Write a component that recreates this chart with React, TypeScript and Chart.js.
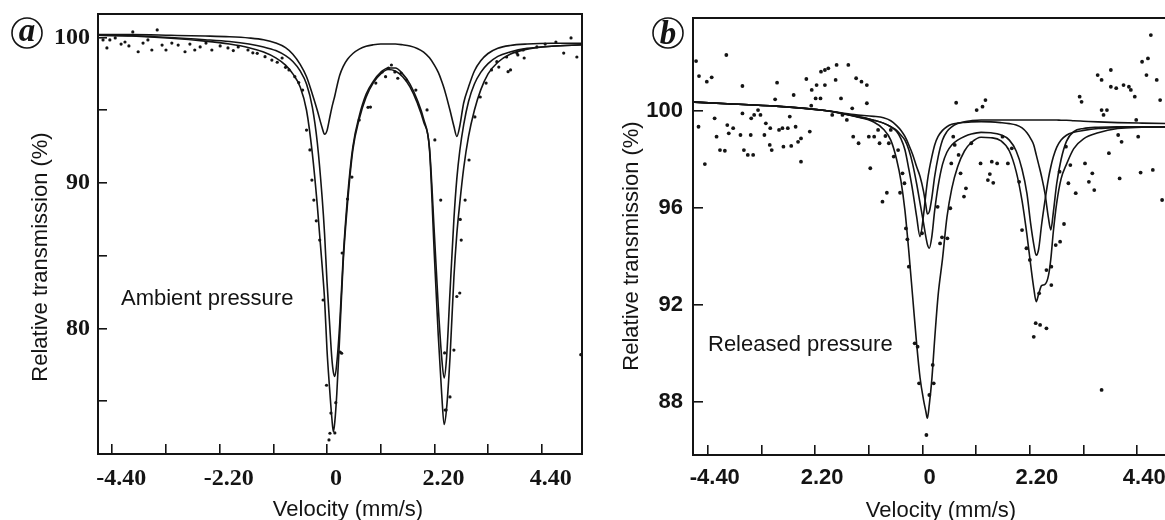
import React, { useEffect, useRef } from "react";
import { Chart, registerables } from "chart.js";

Chart.register(...registerables);

// ---------------- Panel (a): ambient pressure ----------------
const aCurveX = [-4.69, -4.0, -3.2, -2.5, -2.0, -1.6, -1.3, -1.05, -0.85, -0.7, -0.55, -0.42, -0.3, -0.2, -0.1, -0.05, 0.0, 0.05, 0.1, 0.13, 0.16, 0.2, 0.26, 0.33, 0.42, 0.53, 0.66, 0.8, 0.95, 1.1, 1.25, 1.4, 1.55, 1.7, 1.85, 1.98, 2.1, 2.2, 2.28, 2.35, 2.4, 2.45, 2.52, 2.6, 2.66, 2.72, 2.8, 2.9, 3.02, 3.15, 3.3, 3.5, 3.75, 4.1, 4.6, 5.225];
const aTotalFit = [100.15, 100.1, 99.95, 99.75, 99.55, 99.3, 99.0, 98.6, 98.1, 97.5, 96.6, 95.0, 92.0, 88.5, 84.3, 82.0, 78.5, 76.0, 73.8, 72.9, 73.6, 75.5, 79.5, 84.5, 88.6, 92.3, 94.4, 95.9, 96.9, 97.5, 97.8, 97.7, 97.3, 96.6, 95.5, 94.2, 92.3, 85.0, 79.5, 75.5, 73.4, 74.5, 78.0, 83.5, 86.5, 88.6, 91.0, 93.2, 95.0, 96.4, 97.5, 98.3, 98.85, 99.2, 99.4, 99.5];
const aMainDoublet = [100.15, 100.12, 100.0, 99.85, 99.72, 99.55, 99.35, 99.1, 98.75, 98.35, 97.7, 96.8, 95.2, 92.8, 89.0, 86.5, 83.2, 80.5, 77.9, 77.0, 76.7, 77.6, 80.3, 84.8, 89.0, 92.5, 94.6, 96.1, 97.0, 97.6, 97.9, 97.9, 97.5, 96.8, 95.7, 94.4, 92.4, 86.5, 81.5, 78.0, 76.6, 78.0, 82.5, 87.5, 90.3, 92.2, 94.0, 95.6, 96.8, 97.6, 98.2, 98.7, 99.0, 99.25, 99.4, 99.5];
const aMinorDoublet = [100.2, 100.2, 100.15, 100.1, 100.05, 99.97, 99.85, 99.62, 99.3, 98.85, 98.15, 97.3, 96.1, 95.0, 93.8, 93.35, 93.6, 94.4, 95.2, 95.6, 96.0, 96.6, 97.4, 98.0, 98.5, 98.9, 99.2, 99.4, 99.5, 99.55, 99.55, 99.55, 99.5, 99.42, 99.25, 99.0, 98.6, 98.1, 97.6, 97.0, 96.5, 95.9, 95.0, 93.9, 93.2, 93.9, 95.5, 96.6, 97.7, 98.4, 98.9, 99.26, 99.45, 99.55, 99.6, 99.6];
const aDotX = [-4.59, -4.51, -4.45, -4.34, -4.22, -4.14, -4.06, -3.98, -3.87, -3.77, -3.67, -3.59, -3.48, -3.38, -3.3, -3.18, -3.05, -2.91, -2.81, -2.71, -2.6, -2.48, -2.36, -2.19, -2.03, -1.92, -1.82, -1.62, -1.52, -1.43, -1.27, -1.13, -1.02, -0.92, -0.85, -0.78, -0.66, -0.58, -0.5, -0.42, -0.35, -0.31, -0.27, -0.22, -0.15, -0.08, -0.01, 0.04, 0.06, 0.08, 0.16, 0.18, 0.27, 0.3, 0.31, 0.42, 0.51, 0.66, 0.84, 0.89, 1.0, 1.13, 1.2, 1.26, 1.32, 1.39, 1.45, 1.52, 1.63, 1.82, 2.05, 2.21, 2.33, 2.41, 2.42, 2.44, 2.52, 2.6, 2.66, 2.72, 2.73, 2.75, 2.83, 2.91, 3.03, 3.14, 3.26, 3.37, 3.48, 3.52, 3.68, 3.71, 3.76, 3.89, 3.91, 4.02, 4.04, 4.3, 4.47, 4.69, 4.85, 5.0, 5.12, 5.2];
const aDotY = [99.83, 99.28, 99.83, 99.97, 99.55, 99.69, 99.42, 100.38, 99.02, 99.62, 99.83, 99.14, 100.52, 99.48, 99.14, 99.62, 99.48, 99.02, 99.55, 99.14, 99.35, 99.62, 99.14, 99.42, 99.28, 99.1, 99.35, 99.14, 98.95, 98.91, 98.68, 98.45, 98.3, 98.59, 97.95, 97.77, 97.31, 96.9, 96.39, 93.64, 92.27, 90.2, 88.83, 87.4, 86.08, 81.96, 76.1, 72.34, 72.8, 74.19, 72.82, 74.9, 78.38, 78.3, 85.19, 88.9, 90.41, 94.33, 95.2, 95.22, 96.87, 97.63, 97.31, 97.9, 98.11, 97.63, 97.2, 97.56, 97.08, 96.39, 95.02, 92.96, 88.83, 78.32, 74.4, 74.4, 75.3, 78.52, 82.2, 82.44, 87.5, 86.08, 88.83, 91.58, 94.54, 95.91, 96.87, 97.77, 98.34, 97.97, 98.66, 97.65, 97.77, 98.93, 98.8, 99.14, 98.59, 99.35, 99.55, 99.69, 98.93, 99.97, 98.66, 78.2];
const aXTicks = [-4.4, -3.3, -2.2, -1.1, 0, 1.1, 2.2, 3.3, 4.4];
const aXTickLabels = ["-4.40", "", "-2.20", "", "0", "", "2.20", "", "4.40"];
const aYTicks = [75, 80, 85, 90, 95, 100];
const aYTickLabels = ["", "80", "", "90", "", "100"];

// ---------------- Panel (b): released pressure ----------------
const bCurveX = [-4.7, -4.0, -3.0, -2.0, -1.4, -1.0, -0.8, -0.65, -0.53, -0.44, -0.36, -0.28, -0.2, -0.12, -0.05, 0.02, 0.07, 0.1, 0.14, 0.19, 0.25, 0.32, 0.41, 0.5, 0.6, 0.72, 0.86, 1.0, 1.2, 1.4, 1.6, 1.78, 1.92, 2.04, 2.14, 2.22, 2.28, 2.33, 2.38, 2.44, 2.51, 2.58, 2.63, 2.68, 2.75, 2.84, 2.95, 3.1, 3.3, 3.6, 4.0, 4.5, 5.236];
const bTotalFit = [100.37, 100.3, 100.2, 100.02, 99.78, 99.55, 99.25, 98.8, 98.0, 97.1, 95.9, 94.2, 92.3, 90.4, 89.0, 88.1, 87.6, 87.33, 87.9, 88.9, 90.6, 92.4, 93.9, 95.6, 96.8, 97.7, 98.35, 98.7, 98.92, 98.9, 98.78, 98.35, 97.5, 96.3, 94.9, 93.6, 92.7, 92.14, 92.45, 92.8, 92.85, 93.2, 93.9, 95.0, 96.2, 97.2, 97.8, 98.45, 98.85, 99.1, 99.28, 99.33, 99.35];
const bMainDoublet = [100.37, 100.3, 100.2, 100.02, 99.8, 99.62, 99.5, 99.35, 99.2, 99.0, 98.8, 98.4, 97.8, 97.0, 96.2, 95.4, 94.8, 94.5, 94.34, 94.8, 95.9, 96.9, 97.8, 98.3, 98.6, 98.8, 98.95, 99.05, 99.12, 99.1, 99.02, 98.8, 98.35, 97.6, 96.6, 95.3, 94.5, 94.05, 94.3, 95.3, 96.3, 97.2, 97.7, 98.1, 98.5, 98.8, 99.0, 99.12, 99.2, 99.28, 99.32, 99.34, 99.35];
const bOuterDoublet = [100.37, 100.3, 100.2, 100.02, 99.8, 99.62, 99.5, 99.35, 99.15, 98.85, 98.4, 97.6, 96.7, 95.64, 94.82, 95.7, 96.6, 97.1, 97.6, 98.1, 98.6, 98.95, 99.2, 99.35, 99.45, 99.5, 99.53, 99.55, 99.56, 99.55, 99.52, 99.48, 99.42, 99.3, 99.1, 98.85, 98.6, 98.2, 97.8, 97.3, 96.6, 95.6, 95.1, 95.8, 97.0, 98.0, 98.75, 99.15, 99.28, 99.33, 99.35, 99.35, 99.35];
const bSinglet = [100.37, 100.3, 100.2, 100.02, 99.85, 99.78, 99.72, 99.6, 99.4, 99.2, 98.95, 98.6, 98.2, 97.7, 97.3, 96.7, 96.1, 95.75, 95.85, 96.4, 97.3, 98.1, 98.8, 99.15, 99.35, 99.48, 99.56, 99.6, 99.63, 99.63, 99.63, 99.63, 99.63, 99.63, 99.63, 99.63, 99.63, 99.63, 99.63, 99.63, 99.63, 99.63, 99.63, 99.63, 99.63, 99.62, 99.62, 99.6, 99.58, 99.55, 99.52, 99.5, 99.48];
const bDotX = [-4.64, -4.58, -4.59, -4.46, -4.42, -4.32, -4.26, -4.22, -4.15, -4.05, -4.02, -4.0, -3.97, -3.88, -3.73, -3.69, -3.69, -3.66, -3.58, -3.52, -3.51, -3.47, -3.45, -3.37, -3.32, -3.24, -3.21, -3.13, -3.12, -3.09, -3.02, -2.98, -2.94, -2.87, -2.85, -2.76, -2.72, -2.69, -2.64, -2.6, -2.55, -2.49, -2.49, -2.38, -2.31, -2.28, -2.27, -2.19, -2.17, -2.09, -2.08, -2.0, -2.0, -1.93, -1.85, -1.78, -1.76, -1.67, -1.64, -1.55, -1.52, -1.44, -1.42, -1.36, -1.31, -1.25, -1.14, -1.14, -1.1, -1.07, -0.99, -0.91, -0.88, -0.82, -0.76, -0.73, -0.69, -0.65, -0.59, -0.5, -0.46, -0.41, -0.37, -0.34, -0.31, -0.28, -0.16, -0.1, -0.07, -0.01, 0.08, 0.14, 0.21, 0.23, 0.31, 0.36, 0.4, 0.51, 0.57, 0.59, 0.63, 0.66, 0.69, 0.74, 0.78, 0.85, 0.89, 1.0, 1.11, 1.19, 1.23, 1.29, 1.34, 1.38, 1.42, 1.45, 1.53, 1.64, 1.75, 1.83, 1.98, 2.04, 2.13, 2.2, 2.28, 2.32, 2.39, 2.41, 2.54, 2.54, 2.64, 2.64, 2.73, 2.81, 2.82, 2.9, 2.94, 2.99, 3.03, 3.14, 3.22, 3.26, 3.33, 3.41, 3.48, 3.52, 3.59, 3.67, 3.67, 3.67, 3.71, 3.78, 3.82, 3.86, 3.86, 3.97, 4.01, 4.04, 4.08, 4.12, 4.23, 4.27, 4.35, 4.38, 4.42, 4.47, 4.5, 4.59, 4.62, 4.68, 4.72, 4.8, 4.87, 4.91];
const bDotY = [102.06, 101.44, 99.35, 97.81, 101.21, 101.39, 99.7, 98.94, 98.39, 98.36, 102.31, 99.42, 99.08, 99.29, 99.01, 101.03, 99.9, 98.39, 98.19, 99.01, 99.7, 98.19, 99.84, 100.04, 99.84, 99.01, 99.49, 98.6, 99.29, 98.39, 100.48, 101.17, 99.22, 99.29, 98.53, 99.29, 99.77, 98.56, 100.66, 99.35, 98.73, 98.87, 97.91, 101.32, 99.15, 100.22, 100.87, 100.52, 101.07, 100.52, 101.62, 101.07, 101.69, 101.76, 99.84, 101.28, 101.9, 100.52, 99.84, 99.63, 101.9, 100.11, 98.94, 101.35, 98.67, 101.21, 101.07, 100.32, 98.94, 97.64, 98.94, 99.22, 98.67, 96.26, 98.97, 96.63, 98.67, 99.22, 98.12, 98.39, 96.63, 97.43, 97.02, 95.16, 94.71, 93.58, 90.42, 90.28, 88.77, 94.96, 86.64, 88.29, 89.53, 88.77, 96.05, 94.54, 94.79, 94.75, 95.99, 97.84, 98.94, 98.6, 100.34, 98.19, 97.43, 96.47, 96.81, 98.67, 100.04, 97.84, 100.18, 100.45, 97.15, 97.4, 97.91, 97.04, 97.84, 98.94, 97.84, 98.46, 97.08, 95.09, 94.34, 93.86, 90.69, 91.25, 92.48, 91.18, 91.04, 93.44, 92.82, 93.58, 94.47, 97.5, 94.61, 95.34, 98.53, 97.02, 97.77, 96.61, 100.59, 100.38, 97.84, 97.08, 97.43, 96.74, 101.48, 101.28, 100.04, 88.5, 99.84, 100.04, 98.26, 101.69, 101.0, 100.94, 99.01, 97.22, 98.73, 101.07, 101.0, 100.87, 100.59, 99.63, 98.94, 97.46, 102.03, 101.48, 102.17, 103.13, 97.57, 101.28, 100.45, 96.33];
const bXTicks = [-4.4, -3.3, -2.2, -1.1, 0, 1.1, 2.2, 3.3, 4.4];
const bXTickLabels = ["-4.40", "", "2.20", "", "0", "", "2.20", "", "4.40"];
const bYTicks = [88, 92, 96, 100];
const bYTickLabels = ["88", "92", "96", "100"];

const INK = "#141414";
const SANS = '"Liberation Sans", Arial, sans-serif';
const SERIF = '"Liberation Serif", "Times New Roman", serif';
const H = 520;

type Spec = {
  left: number;
  width: number;
  area: { left: number; top: number; right: number; bottom: number };
  xMin: number; xMax: number; yMin: number; yMax: number;
  xTicks: number[]; xTickLabels: string[];
  yTicks: number[]; yTickLabels: string[];
  tickFamily: string; tickSize: number;
  xLabelOffset: number;
  yTickLen: number; yPad: number;
  curveX: number[]; curves: number[][];
  dotX: number[]; dotY: number[]; dotRadius: number;
  lineWidth: number;
  letter: string; circle: [number, number, number]; letterDy: number;
  note: string; notePos: [number, number];
  xTitle: [number, number]; yTitle: [number, number];
};

const specA: Spec = {
  left: 0, width: 600,
  area: { left: 98, top: 14, right: 582, bottom: 454 },
  xMin: -4.693, xMax: 5.225, yMin: 71.375, yMax: 101.615,
  xTicks: aXTicks, xTickLabels: aXTickLabels,
  yTicks: aYTicks, yTickLabels: aYTickLabels,
  tickFamily: SERIF, tickSize: 24, xLabelOffset: 9, yTickLen: 9, yPad: 17,
  curveX: aCurveX, curves: [aMinorDoublet, aMainDoublet, aTotalFit],
  dotX: aDotX, dotY: aDotY, dotRadius: 1.6, lineWidth: 1.6,
  letter: "a", circle: [27, 33, 15], letterDy: 8,
  note: "Ambient pressure", notePos: [121, 305],
  xTitle: [348, 510], yTitle: [41, 257],
};

const specB: Spec = {
  left: 600, width: 600,
  area: { left: 93, top: 18, right: 578, bottom: 455 },
  xMin: -4.703, xMax: 5.236, yMin: 85.815, yMax: 103.835,
  xTicks: bXTicks, xTickLabels: bXTickLabels,
  yTicks: bYTicks, yTickLabels: bYTickLabels,
  tickFamily: SANS, tickSize: 22, xLabelOffset: 7, yTickLen: 10, yPad: 20,
  curveX: bCurveX, curves: [bSinglet, bOuterDoublet, bMainDoublet, bTotalFit],
  dotX: bDotX, dotY: bDotY, dotRadius: 1.9, lineWidth: 1.6,
  letter: "b", circle: [68, 33, 15], letterDy: 11,
  note: "Released pressure", notePos: [108, 351],
  xTitle: [341, 511], yTitle: [32, 246],
};

function Panel({ spec }: { spec: Spec }) {
  const ref = useRef<HTMLCanvasElement | null>(null);
  useEffect(() => {
    const canvas = ref.current;
    if (!canvas) return;
    const lineSets = spec.curves.map((ys) => ({
      type: "line" as const,
      data: spec.curveX.map((x, i) => ({ x, y: ys[i] })),
      borderColor: INK,
      borderWidth: spec.lineWidth,
      pointRadius: 0,
      fill: false,
      cubicInterpolationMode: "monotone" as const,
    }));
    const dotSet = {
      type: "scatter" as const,
      data: spec.dotX.map((x, i) => ({ x, y: spec.dotY[i] })),
      pointRadius: spec.dotRadius,
      pointBackgroundColor: INK,
      pointBorderWidth: 0,
      showLine: false,
    };
    const decor = {
      id: "decor",
      afterDraw(chart: any) {
        const ctx = chart.ctx as CanvasRenderingContext2D;
        const a = chart.chartArea;
        ctx.save();
        ctx.strokeStyle = INK;
        ctx.lineWidth = 2;
        ctx.strokeRect(a.left, a.top, a.right - a.left, a.bottom - a.top);
        ctx.fillStyle = INK;
        ctx.font = `22px ${SANS}`;
        ctx.textAlign = "center";
        ctx.textBaseline = "middle";
        ctx.fillText("Velocity (mm/s)", spec.xTitle[0], spec.xTitle[1]);
        ctx.save();
        ctx.translate(spec.yTitle[0], spec.yTitle[1]);
        ctx.rotate(-Math.PI / 2);
        ctx.fillText("Relative transmission (%)", 0, 0);
        ctx.restore();
        ctx.textAlign = "left";
        ctx.textBaseline = "alphabetic";
        ctx.fillText(spec.note, spec.notePos[0], spec.notePos[1]);
        const [cx, cy, r] = spec.circle;
        ctx.beginPath();
        ctx.lineWidth = 1.6;
        ctx.arc(cx, cy, r, 0, Math.PI * 2);
        ctx.stroke();
        ctx.font = `italic bold 33px ${SERIF}`;
        ctx.textAlign = "center";
        ctx.fillText(spec.letter, cx, cy + spec.letterDy);
        ctx.restore();
      },
    };
    const tickFont = { family: spec.tickFamily, weight: "bold" as const, size: spec.tickSize };
    const chart = new Chart(canvas, {
      type: "line",
      data: { datasets: [...lineSets, dotSet] as any },
      options: {
        responsive: false,
        animation: false,
        events: [],
        layout: {
          padding: { left: 0, top: spec.area.top, right: spec.width - spec.area.right, bottom: 0 },
        },
        plugins: { legend: { display: false }, tooltip: { enabled: false } },
        scales: {
          x: {
            type: "linear",
            position: "bottom",
            bounds: "data",
            min: spec.xMin,
            max: spec.xMax,
            afterBuildTicks: (s: any) => {
              s.ticks = spec.xTicks.map((v) => ({ value: v }));
            },
            afterFit: (s: any) => {
              s.height = H - spec.area.bottom;
              s.paddingLeft = 0; s.paddingRight = 0; s.paddingTop = 0; s.paddingBottom = 0;
            },
            ticks: {
              autoSkip: false,
              maxRotation: 0,
              minRotation: 0,
              padding: 20,
              labelOffset: spec.xLabelOffset,
              color: INK,
              font: tickFont,
              callback: (_v: any, i: number) => spec.xTickLabels[i] ?? "",
            },
            grid: { drawOnChartArea: false, drawTicks: true, tickLength: -10, color: INK, lineWidth: 1.6 },
            border: { display: false },
            title: { display: false },
          },
          y: {
            type: "linear",
            position: "left",
            bounds: "data",
            min: spec.yMin,
            max: spec.yMax,
            afterBuildTicks: (s: any) => {
              s.ticks = spec.yTicks.map((v) => ({ value: v }));
            },
            afterFit: (s: any) => {
              s.width = spec.area.left;
              s.paddingLeft = 0; s.paddingRight = 0; s.paddingTop = 0; s.paddingBottom = 0;
            },
            ticks: {
              autoSkip: false,
              padding: spec.yPad,
              color: INK,
              font: tickFont,
              callback: (_v: any, i: number) => spec.yTickLabels[i] ?? "",
            },
            grid: { drawOnChartArea: false, drawTicks: true, tickLength: -spec.yTickLen, color: INK, lineWidth: 1.6 },
            border: { display: false },
            title: { display: false },
          },
        },
      } as any,
      plugins: [decor],
    });
    return () => chart.destroy();
  }, [spec]);
  return (
    <canvas
      ref={ref}
      width={spec.width}
      height={H}
      style={{ position: "absolute", left: spec.left, top: 0, width: spec.width, height: H, display: "block" }}
    />
  );
}

export default function App() {
  return (
    <div
      style={{
        position: "absolute",
        left: 0,
        top: 0,
        width: 1165,
        height: H,
        overflow: "hidden",
        background: "#fff",
      }}
    >
      <Panel spec={specA} />
      <Panel spec={specB} />
    </div>
  );
}
